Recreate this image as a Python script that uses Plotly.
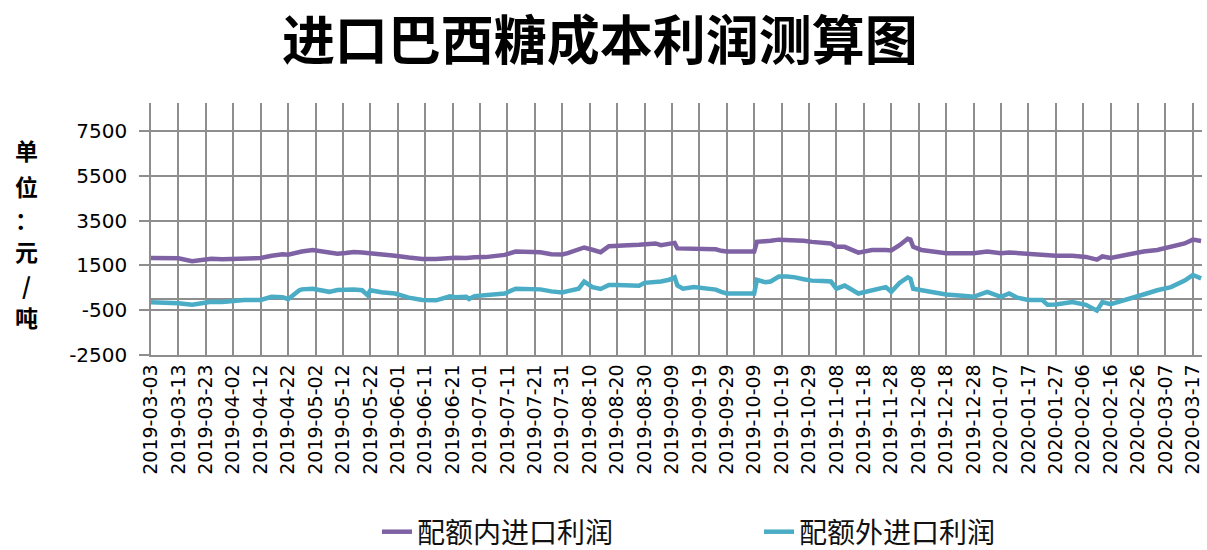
import plotly.graph_objects as go

# ---------------- data ----------------
dates = [
    "2019-03-03", "2019-03-08", "2019-03-13", "2019-03-18", "2019-03-21", "2019-03-25",
    "2019-03-29", "2019-04-02", "2019-04-06", "2019-04-12", "2019-04-16", "2019-04-20",
    "2019-04-22", "2019-04-26", "2019-04-27", "2019-05-01", "2019-05-07", "2019-05-10",
    "2019-05-13", "2019-05-16", "2019-05-19", "2019-05-21", "2019-05-22", "2019-05-26",
    "2019-05-31", "2019-06-05", "2019-06-10", "2019-06-15", "2019-06-20", "2019-06-22",
    "2019-06-26", "2019-06-27", "2019-06-29", "2019-07-03", "2019-07-06", "2019-07-10",
    "2019-07-14", "2019-07-19", "2019-07-23", "2019-07-27", "2019-07-31", "2019-08-02",
    "2019-08-06", "2019-08-08", "2019-08-11", "2019-08-14", "2019-08-17", "2019-08-20",
    "2019-08-24", "2019-08-28", "2019-08-30", "2019-09-03", "2019-09-05", "2019-09-08",
    "2019-09-10", "2019-09-11", "2019-09-13", "2019-09-17", "2019-09-21", "2019-09-25",
    "2019-09-27", "2019-09-29", "2019-10-07", "2019-10-09", "2019-10-10", "2019-10-13",
    "2019-10-15", "2019-10-18", "2019-10-21", "2019-10-24", "2019-10-27", "2019-10-30",
    "2019-11-03", "2019-11-06", "2019-11-08", "2019-11-11", "2019-11-16", "2019-11-21",
    "2019-11-26", "2019-11-28", "2019-12-01", "2019-12-04", "2019-12-05", "2019-12-06",
    "2019-12-09", "2019-12-14", "2019-12-18", "2019-12-24", "2019-12-28", "2020-01-02",
    "2020-01-07", "2020-01-10", "2020-01-13", "2020-01-17", "2020-01-22", "2020-01-24",
    "2020-01-27", "2020-02-02", "2020-02-07", "2020-02-11", "2020-02-13", "2020-02-16",
    "2020-02-22", "2020-02-28", "2020-03-04", "2020-03-09", "2020-03-14", "2020-03-17",
    "2020-03-20",
]

profit_in_quota = [
    1830, 1830, 1820, 1690, 1750, 1800,
    1780, 1790, 1800, 1830, 1930, 2000,
    1980, 2110, 2120, 2190, 2070, 2020,
    2050, 2100, 2080, 2060, 2060, 2020,
    1930, 1850, 1790, 1790, 1860, 1840,
    1830, 1850, 1860, 1870, 1900, 1970,
    2120, 2120, 2090, 2000, 1990, 2045,
    2200, 2300, 2200, 2090, 2360, 2400,
    2405, 2420, 2430, 2480, 2405, 2480,
    2505, 2260, 2260, 2240, 2220, 2220,
    2150, 2120, 2120, 2120, 2550, 2550,
    2600, 2650, 2650, 2650, 2600, 2550,
    2520, 2480, 2330, 2330, 2070, 2190,
    2190, 2170, 2400, 2690, 2650, 2330,
    2190, 2120, 2045, 2045, 2045, 2120,
    2045, 2080, 2045, 2045, 1970, 1950,
    1930, 1930, 1880, 1760, 1900, 1830,
    2000, 2120, 2190, 2330, 2480, 2650,
    2590,
]

profit_out_quota = [
    -140, -150, -190, -260, -200, -120,
    -130, -80, -40, -40, 100, 80,
    -10, 380, 430, 460, 320, 400,
    430, 420, 390, 170, 390, 300,
    245, 60, -40, -60, 120, 80,
    100, 0, 130, 170, 200, 245,
    460, 450, 430, 340, 290, 350,
    460, 780, 530, 450, 630, 620,
    605, 590, 720, 750, 780, 860,
    965, 600, 460, 530, 500, 420,
    320, 245, 245, 245, 860, 750,
    780, 1000, 1000, 965, 880, 820,
    800, 780, 460, 600, 245, 390,
    530, 320, 720, 965, 900, 460,
    400, 320, 200, 145, 100, 320,
    100, 245, 60, -40, -40, -260,
    -250, -140, -260, -520, -140, -230,
    -40, 200, 390, 530, 820, 1070,
    920,
]

series_names = ["配额内进口利润", "配额外进口利润"]

tick_labels = [
    "2019-03-03", "2019-03-13", "2019-03-23", "2019-04-02", "2019-04-12", "2019-04-22",
    "2019-05-02", "2019-05-12", "2019-05-22", "2019-06-01", "2019-06-11", "2019-06-21",
    "2019-07-01", "2019-07-11", "2019-07-21", "2019-07-31", "2019-08-10", "2019-08-20",
    "2019-08-30", "2019-09-09", "2019-09-19", "2019-09-29", "2019-10-09", "2019-10-19",
    "2019-10-29", "2019-11-08", "2019-11-18", "2019-11-28", "2019-12-08", "2019-12-18",
    "2019-12-28", "2020-01-07", "2020-01-17", "2020-01-27", "2020-02-06", "2020-02-16",
    "2020-02-26", "2020-03-07", "2020-03-17",
]

y_ticks = [-2500, -500, 1500, 3500, 5500, 7500]

title_text = "进口巴西糖成本利润测算图"
unit_label = "单位：元/吨"

# ---------------- figure ----------------
W, H = 1207, 550
L, R, T, B = 151, 5, 103, 195
GRID = "#8e8e8e"

fig = go.Figure()
fig.add_trace(go.Scatter(
    x=dates, y=profit_in_quota, name=series_names[0], mode="lines",
    line=dict(color="#7f62a4", width=4.5),
))
fig.add_trace(go.Scatter(
    x=dates, y=profit_out_quota, name=series_names[1], mode="lines",
    line=dict(color="#4aacc5", width=4.5),
))

pw = W - L - R
ph = H - T - B


def px_to_paper_x(px):
    return (px - L) / pw


def py_to_paper_y(py):
    return (H - B - py) / ph


annotations = []
unit_y = [150, 186, 219, 251, 285, 317]
for ch, yy in zip(unit_label, unit_y):
    annotations.append(dict(
        text=ch, x=px_to_paper_x(26), y=py_to_paper_y(yy), xref="paper", yref="paper",
        showarrow=False, xanchor="center", yanchor="middle",
        font=dict(family="Noto Sans CJK SC", size=23, color="#000000", weight="bold"),
    ))

fig.update_layout(
    width=W, height=H,
    margin=dict(l=L, r=R, t=T, b=B, autoexpand=False),
    paper_bgcolor="white", plot_bgcolor="white",
    title=dict(
        text=title_text, x=0.497, xanchor="center", xref="container",
        y=1 - 41 / H, yanchor="middle", yref="container",
        font=dict(family="Noto Sans CJK SC", size=53, color="#000000", weight="bold"),
    ),
    showlegend=True,
    legend=dict(
        orientation="h", x=px_to_paper_x(377), xanchor="left",
        y=py_to_paper_y(532), yanchor="middle",
        font=dict(family="Noto Sans CJK SC", size=28, color="#111111"),
        entrywidth=337, entrywidthmode="pixels",
        bgcolor="rgba(0,0,0,0)",
    ),
    annotations=annotations,
    xaxis=dict(
        type="date", range=["2019-03-03", "2020-03-20 08:00"],
        tickmode="array", tickvals=tick_labels, ticktext=tick_labels,
        tickangle=-90, ticks="", automargin=False,
        tickfont=dict(family="DejaVu Sans", size=19, color="#000000"),
        showgrid=True, gridcolor=GRID, gridwidth=1.5,
        showline=True, linecolor=GRID, linewidth=1.5,
        zeroline=False,
    ),
    yaxis=dict(
        range=[-2500, 8750], automargin=False,
        tickmode="array", tickvals=y_ticks, ticktext=[str(v) for v in y_ticks],
        ticks="outside", ticklen=10, tickcolor=GRID, tickwidth=1.5,
        ticklabelstandoff=8,
        tickfont=dict(family="DejaVu Sans", size=20, color="#000000"),
        showgrid=True, gridcolor=GRID, gridwidth=1.5,
        zeroline=True, zerolinecolor=GRID, zerolinewidth=1.5,
        showline=True, linecolor=GRID, linewidth=1.5,
    ),
)

fig.write_html(
    "out.html",
    config={"displayModeBar": False},
    post_script="document.body.style.margin='0';document.body.style.overflow='hidden';",
)
